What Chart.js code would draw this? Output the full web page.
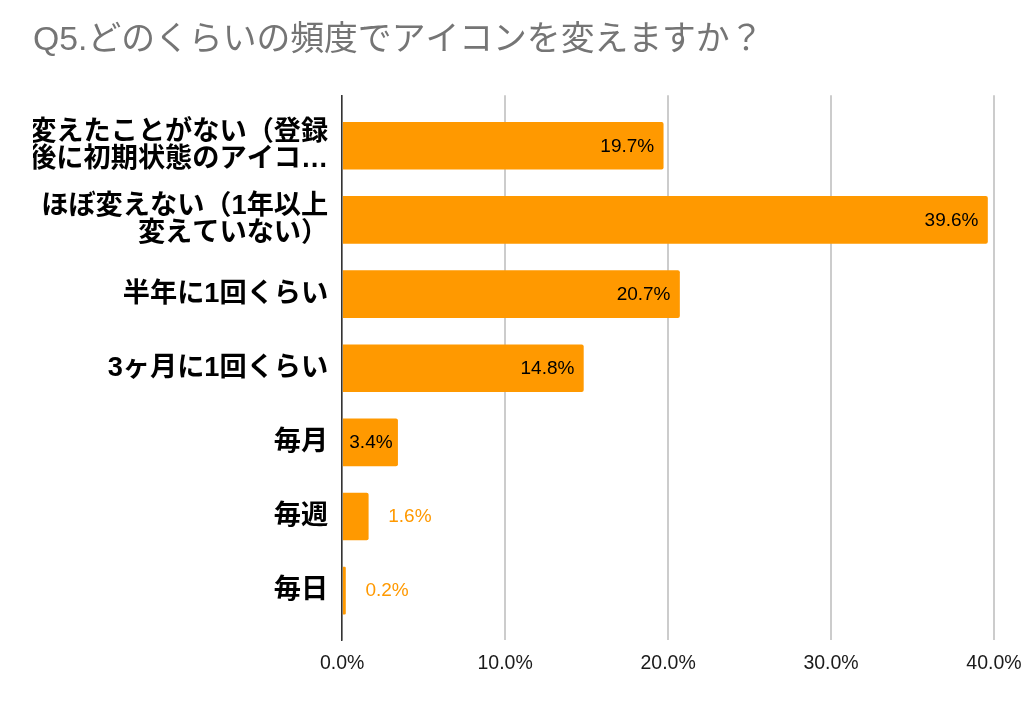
<!DOCTYPE html>
<html lang="ja">
<head>
<meta charset="utf-8">
<title>Q5</title>
<script src="https://cdn.jsdelivr.net/npm/chart.js@4"></script>
<style>
  html, body { margin: 0; padding: 0; background: #fff; }
  canvas { display: block; }
</style>
</head>
<body>
<canvas id="chart" width="1024" height="704"></canvas>
<script>
const chartTitle = 'Q5.どのくらいの頻度でアイコンを変えますか？';
const categories = [
  ['変えたことがない（登録', '後に初期状態のアイコ…'],
  ['ほぼ変えない（1年以上', '変えていない）'],
  '半年に1回くらい',
  '3ヶ月に1回くらい',
  '毎月',
  '毎週',
  '毎日'
];
const values = [19.7, 39.6, 20.7, 14.8, 3.4, 1.6, 0.2];
const xTicks = [0, 10, 20, 30, 40];

const ORANGE = '#ff9900';
const LATIN_FONT = '"Liberation Sans", "Noto Sans CJK JP", sans-serif';
const VALUE_FONT = '19px ' + LATIN_FONT;

// google-sheets style labels: inside the bar if they fit, otherwise outside in orange
const valueLabels = {
  id: 'valueLabels',
  afterDatasetsDraw(chart) {
    const ctx = chart.ctx;
    const bars = chart.getDatasetMeta(0).data;
    ctx.save();
    ctx.font = VALUE_FONT;
    ctx.textBaseline = 'middle';
    bars.forEach((bar, i) => {
      const text = values[i].toFixed(1) + '%';
      const inside = bar.x - bar.base > ctx.measureText(text).width + 8;
      ctx.fillStyle = inside ? '#000' : ORANGE;
      ctx.textAlign = inside ? 'right' : 'left';
      ctx.fillText(text, inside ? bar.x - (i === 4 ? 5 : 9) : bar.x + 20, bar.y + 0.5);
    });
    ctx.restore();
  }
};

new Chart(document.getElementById('chart'), {
  type: 'bar',
  data: {
    datasets: [{
      data: values.map((v, i) => ({ x: v, y: i })),
      backgroundColor: ORANGE,
      barThickness: 47,
      borderRadius: { topRight: 2, bottomRight: 2 },
      borderSkipped: false
    }]
  },
  options: {
    indexAxis: 'y',
    responsive: false,
    animation: false,
    layout: { padding: { left: 33, right: 30, top: 0, bottom: 0 } },
    plugins: {
      legend: { display: false },
      tooltip: { enabled: false },
      title: {
        display: true,
        text: chartTitle,
        align: 'start',
        color: '#757575',
        font: { family: LATIN_FONT, size: 33.8, weight: 'normal', lineHeight: 1.2 },
        padding: { top: 20, bottom: 34.8 }
      }
    },
    scales: {
      x: {
        type: 'linear',
        position: 'bottom',
        min: 0,
        max: 40,
        afterBuildTicks(scale) { scale.ticks = xTicks.map(v => ({ value: v })); },
        afterFit(scale) {
          scale.height = 64;
          scale.paddingLeft = 0;
          scale.paddingRight = 0;
        },
        grid: { color: '#cccccc', lineWidth: 2, drawTicks: false },
        border: { display: false },
        ticks: {
          color: '#1a1a1a',
          padding: 12,
          maxRotation: 0,
          font: { family: LATIN_FONT, size: 19.5 },
          callback: v => v.toFixed(1) + '%'
        }
      },
      y: {
        type: 'linear',
        reverse: true,
        offset: false,
        min: -0.68,
        max: 6.665,
        afterBuildTicks(scale) { scale.ticks = categories.map((c, i) => ({ value: i })); },
        afterFit(scale) { scale.width = 309.2; },
        grid: { display: false, drawTicks: false, offset: false },
        border: { display: true, color: '#333333', width: 1.5 },
        ticks: {
          autoSkip: false,
          color: '#000',
          padding: 14,
          font: { family: LATIN_FONT, size: 27.2, weight: 'bold', lineHeight: 1 },
          callback: v => categories[v]
        }
      }
    }
  },
  plugins: [valueLabels]
});
</script>
</body>
</html>
